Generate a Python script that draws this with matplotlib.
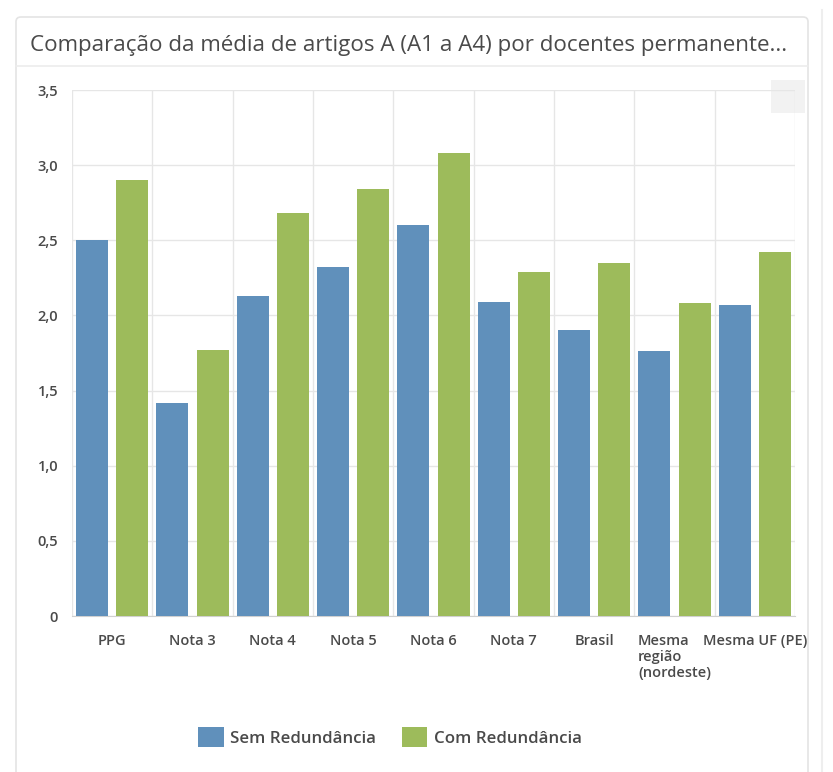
import matplotlib
matplotlib.use("Agg")
import matplotlib.pyplot as plt
from matplotlib.patches import FancyBboxPatch, Rectangle
from matplotlib.lines import Line2D
from matplotlib.ticker import FuncFormatter, MultipleLocator
import numpy as np

plt.rcParams["font.family"] = ["Open Sans", "DejaVu Sans"]

# Media de artigos A por docente permanente
categorias = ["PPG", "Nota 3", "Nota 4", "Nota 5", "Nota 6", "Nota 7", "Brasil",
              "Mesma\nregião\n(nordeste)", "Mesma UF (PE)"]
sem_redundancia = [2.50, 1.42, 2.13, 2.32, 2.60, 2.09, 1.90, 1.76, 2.07]
com_redundancia = [2.90, 1.77, 2.68, 2.84, 3.08, 2.29, 2.35, 2.08, 2.42]
series = ["Sem Redundância", "Com Redundância"]
titulo = "Comparação da média de artigos A (A1 a A4) por docentes permanente..."

AZUL = "#6090bb"
VERDE = "#9dbb5b"
TEXTO = "#4a4a4a"

W, H = 833, 772
fig = plt.figure(figsize=(W / 100, H / 100), dpi=100)
fig.patch.set_facecolor("white")

# cartao com cabecalho
card = FancyBboxPatch((16 / W, -0.05), (792 / W), 0.05 + (755 / H),
                      boxstyle="round,pad=0,rounding_size=0.006",
                      transform=fig.transFigure, facecolor="white",
                      edgecolor="#e4e4e4", linewidth=1.2, zorder=-5)
fig.patches.append(card)
fig.add_artist(Line2D([16 / W, 808 / W], [1 - 66 / H, 1 - 66 / H],
                      transform=fig.transFigure, color="#ececec", lw=1.2,
                      zorder=-4))
fig.add_artist(Line2D([822 / W, 822 / W], [0, 1 - 10 / H],
                      transform=fig.transFigure, color="#eeeeee", lw=1.5,
                      zorder=-4))
fig.text(30 / W, 1 - 45 / H, titulo, fontsize=16.1, color=TEXTO,
         ha="left", va="center")
# botao de menu
fig.patches.append(Rectangle((771 / W, 1 - 113 / H), 34 / W, 33 / H,
                             transform=fig.transFigure, facecolor="#f2f2f2",
                             edgecolor="none", zorder=-3))

ax = fig.add_axes([72 / W, 156 / H, 723 / W, 526 / H])
ax.patch.set_alpha(0)
x = np.arange(len(categorias))
larg = 0.4
ax.bar(x - 0.25, sem_redundancia, larg, color=AZUL, label=series[0], zorder=3)
ax.bar(x + 0.25, com_redundancia, larg, color=VERDE, label=series[1], zorder=3)

ax.set_xlim(-0.5, len(categorias) - 0.5)
ax.set_ylim(0, 3.5)
ax.yaxis.set_major_locator(MultipleLocator(0.5))
ax.yaxis.set_major_formatter(FuncFormatter(
    lambda v, _: "0" if v == 0 else f"{v:.1f}".replace(".", ",")))
ax.set_xticks(x)
ax.set_xticklabels(categorias, multialignment="left")
ax.set_xticks(np.arange(-0.5, len(categorias)), minor=True)

ax.grid(axis="y", color="#e6e6e6", lw=1, zorder=0)
ax.grid(axis="x", which="minor", color="#e6e6e6", lw=1, zorder=0)
ax.grid(axis="x", which="major", visible=False)
for lado in ["top", "right", "left"]:
    ax.spines[lado].set_visible(False)
ax.spines["bottom"].set_color("#d0d0d0")
ax.tick_params(which="both", length=0)
ax.tick_params(axis="y", pad=10, labelsize=10.5, labelcolor=TEXTO)
ax.tick_params(axis="x", pad=13, labelsize=10.5, labelcolor=TEXTO)
for t in ax.get_xticklabels() + ax.get_yticklabels():
    t.set_fontweight("semibold")

leg = ax.legend(loc="center", bbox_to_anchor=(390 / W, 1 - 737 / H),
                bbox_transform=fig.transFigure, ncol=2, frameon=False,
                handlelength=1.5, handleheight=1.5, handletextpad=0.4,
                columnspacing=1.5, prop={"size": 12.2, "weight": "semibold"})
for t in leg.get_texts():
    t.set_color(TEXTO)

fig.savefig("out.png", dpi=100)
